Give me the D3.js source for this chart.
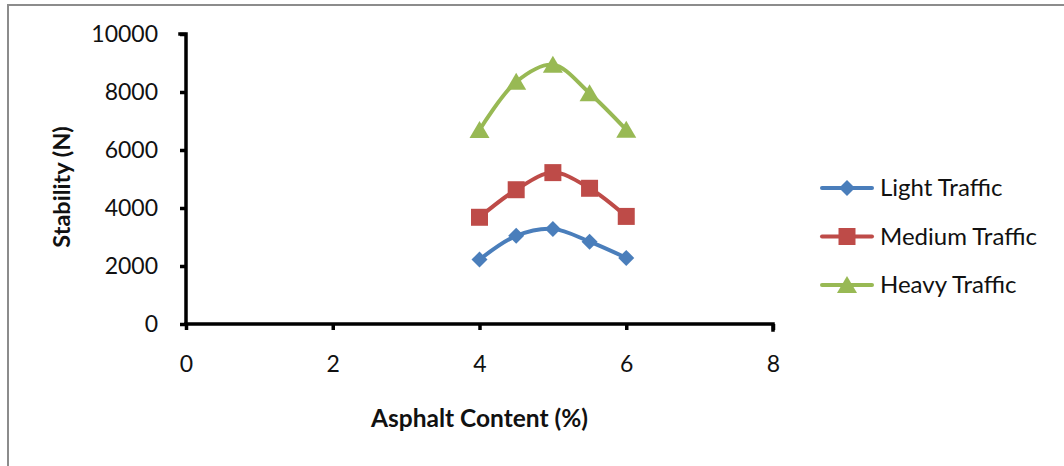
<!DOCTYPE html>
<html>
<head>
<meta charset="utf-8">
<script src="https://cdn.jsdelivr.net/npm/d3@7"></script>
<style>
  html, body { margin: 0; padding: 0; background: #fff; }
  svg { display: block; }
  text { font-family: Lato, "Open Sans", sans-serif; fill: #111; }
</style>
</head>
<body>
<svg id="chart" width="1064" height="466"></svg>
<script>
// Asphalt content (%) tested for each mix
const asphaltContent = [4, 4.5, 5, 5.5, 6];

// Marshall stability (N) for each traffic level
const lightTraffic  = [2220, 3040, 3280, 2840, 2280];
const mediumTraffic = [3680, 4630, 5220, 4680, 3710];
const heavyTraffic  = [6690, 8350, 8940, 7960, 6700];

const seriesNames = ["Light Traffic", "Medium Traffic", "Heavy Traffic"];
const xTicks = [0, 2, 4, 6, 8];
const yTicks = [0, 2000, 4000, 6000, 8000, 10000];

const colors  = ["#4A7EBB", "#BE4B48", "#98B954"];
const markers = ["diamond", "square", "triangle"];
const series = [lightTraffic, mediumTraffic, heavyTraffic].map((vals, i) => ({
  name: seriesNames[i],
  color: colors[i],
  marker: markers[i],
  points: asphaltContent.map((x, j) => ({ x, y: vals[j] }))
}));

const svg = d3.select("#chart");

// outer chart frame (runs off the right and bottom edges)
svg.append("rect")
  .attr("x", 8).attr("y", 5)
  .attr("width", 1100).attr("height", 500)
  .attr("fill", "none").attr("stroke", "#8c8c8c").attr("stroke-width", 2);

const x = d3.scaleLinear().domain([0, 8]).range([186, 773]);
const y = d3.scaleLinear().domain([0, 10000]).range([324, 34]);

// axes
const xAxis = svg.append("g")
  .attr("transform", `translate(0,${y(0)})`)
  .call(d3.axisBottom(x).tickValues(xTicks).tickSize(6).tickPadding(26).tickFormat(d3.format("d")));
const yAxis = svg.append("g")
  .attr("transform", `translate(${x(0)},0)`)
  .call(d3.axisLeft(y).tickValues(yTicks).tickSize(6).tickPadding(22).tickFormat(d3.format("d")));

[xAxis, yAxis].forEach(g => {
  g.select(".domain").attr("stroke", "#000").attr("stroke-width", 3.5)
    .attr("stroke-linecap", "square");
  g.selectAll(".tick line").attr("stroke", "#000").attr("stroke-width", 3.5);
  g.selectAll(".tick text")
    .style("font-family", "Lato, 'Open Sans', sans-serif")
    .style("font-size", "23px").attr("fill", "#111");
});
// axis baselines with their end ticks
xAxis.select(".domain").attr("d", `M${x(0)},${0}H${x(8)}V6`);
yAxis.select(".domain").attr("d", `M-6,${y(10000)}H0V${y(0)}`);

// axis titles
svg.append("text")
  .attr("x", x(4)).attr("y", 427)
  .attr("text-anchor", "middle")
  .style("font-size", "24.5px").style("font-weight", "bold")
  .text("Asphalt Content (%)");
svg.append("text")
  .attr("transform", `translate(70,${y(5000) + 8}) rotate(-90)`)
  .attr("text-anchor", "middle")
  .style("font-size", "23.5px").style("font-weight", "bold")
  .text("Stability (N)");

// marker shapes
function markerPath(type) {
  if (type === "diamond") return "M0,-8L8,0L0,8L-8,0Z";
  if (type === "square") return "M-8.5,-8.5H8.5V8.5H-8.5Z";
  return "M0,-9L10,8H-10Z";
}

const line = d3.line()
  .x(d => x(d.x)).y(d => y(d.y))
  .curve(d3.curveCatmullRom.alpha(0.5));

series.forEach(s => {
  svg.append("path")
    .datum(s.points)
    .attr("d", line)
    .attr("fill", "none")
    .attr("stroke", s.color)
    .attr("stroke-width", 4)
    .attr("stroke-linecap", "round");
  svg.append("g").selectAll("path")
    .data(s.points)
    .join("path")
    .attr("transform", d => `translate(${x(d.x)},${y(d.y)})`)
    .attr("d", markerPath(s.marker))
    .attr("fill", s.color);
});

// legend
const legend = svg.append("g");
series.forEach((s, i) => {
  const cy = 188 + i * 48.5;
  legend.append("line")
    .attr("x1", 822).attr("x2", 872).attr("y1", cy).attr("y2", cy)
    .attr("stroke", s.color).attr("stroke-width", 4).attr("stroke-linecap", "round");
  legend.append("path")
    .attr("transform", `translate(847,${cy})`)
    .attr("d", markerPath(s.marker))
    .attr("fill", s.color);
  legend.append("text")
    .attr("x", 880).attr("y", cy + 8)
    .style("font-size", "24px")
    .text(s.name);
});
</script>
</body>
</html>
